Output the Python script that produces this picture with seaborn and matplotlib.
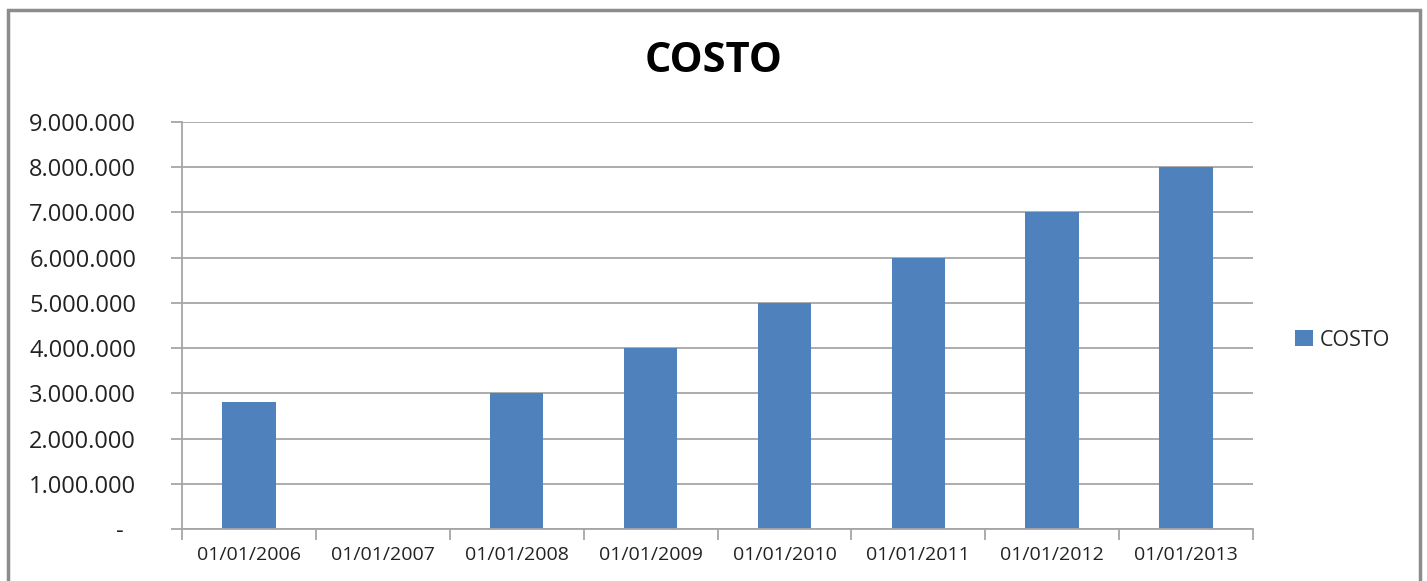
import pandas as pd
import seaborn as sns
import matplotlib.pyplot as plt
from matplotlib.patches import Rectangle
from matplotlib.ticker import FuncFormatter, FixedLocator

dates = ['01/01/2006', '01/01/2007', '01/01/2008', '01/01/2009',
         '01/01/2010', '01/01/2011', '01/01/2012', '01/01/2013']
costo = [2800000, 0, 3000000, 4000000, 5000000, 6000000, 7000000, 8000000]
y_ticks = [0, 1000000, 2000000, 3000000, 4000000, 5000000, 6000000, 7000000, 8000000, 9000000]

df = pd.DataFrame({'data': dates, 'COSTO': costo})

sns.set_style('white')
plt.rcParams['font.family'] = ['Open Sans', 'DejaVu Sans']

fig = plt.figure(figsize=(14.27, 5.81), dpi=100)
ax = fig.add_axes([182 / 1427, 52 / 581, (1253 - 182) / 1427, (529 - 122) / 581])

sns.barplot(data=df, x='data', y='COSTO', color='#4F81BD', width=0.4,
            saturation=1, ax=ax, label='COSTO', linewidth=0, edgecolor='none')

ax.set_xlim(-0.5, len(dates) - 0.5)
ax.set_ylim(0, 9000000)
ax.set_yticks(y_ticks)


def fmt(v, pos):
    # zero shown as a dash, like the accounting format
    if v == 0:
        return '-  '
    return f'{int(v):,}'.replace(',', '.')


ax.yaxis.set_major_formatter(FuncFormatter(fmt))
ax.yaxis.grid(True, color='#A6A6A6', linewidth=1.3)
ax.set_axisbelow(True)
ax.tick_params(axis='y', length=8, width=1.3, color='#A6A6A6', pad=25,
               labelsize=17, labelcolor='#222222', left=True)

ax.xaxis.set_minor_locator(FixedLocator([i - 0.5 for i in range(len(dates) + 1)]))
ax.tick_params(axis='x', which='major', length=0, pad=12, labelsize=14,
               labelcolor='#222222')
ax.tick_params(axis='x', which='minor', length=8, width=1.3, color='#A6A6A6',
               bottom=True)
ax.set_xlabel('')
ax.set_ylabel('')

for side in ['top', 'right']:
    ax.spines[side].set_visible(False)
for side in ['left', 'bottom']:
    ax.spines[side].set_color('#A6A6A6')
    ax.spines[side].set_linewidth(1.3)

fig.text(0.5, 1 - 62 / 581, 'COSTO', ha='center', va='center',
         fontsize=30, fontweight='bold', color='black')

leg = ax.legend(loc='center left', bbox_to_anchor=(1276 / 1427, 1 - 340 / 581),
                bbox_transform=fig.transFigure, frameon=False, fontsize=15.5,
                handlelength=0.8, handleheight=0.8, handletextpad=0.35)

fig.patches.append(Rectangle((8 / 1427, -0.1), (1420 - 8) / 1427, (571 / 581) + 0.1,
                             transform=fig.transFigure, fill=False,
                             edgecolor='#8C8C8C', linewidth=2.5))

fig.savefig('out.png', dpi=100)
